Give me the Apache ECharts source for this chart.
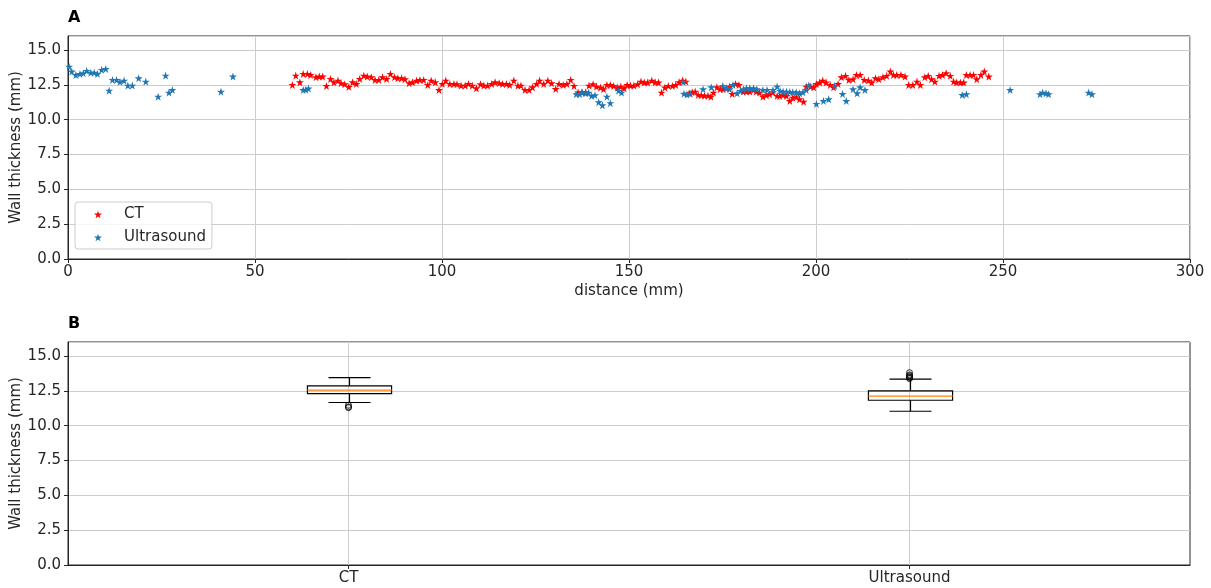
<!DOCTYPE html>
<html>
<head>
<meta charset="utf-8">
<script src="https://cdn.jsdelivr.net/npm/echarts@6/dist/echarts.min.js"></script>
<style>
html, body { margin: 0; padding: 0; background: #ffffff; }
#chart { width: 1211px; height: 588px; }
</style>
</head>
<body>
<div id="chart"></div>
<script>
// Wall thickness along the vessel, CT measurements (mm)
const ctDistance = [
  60.0, 60.9, 62.0, 62.9, 64.0, 64.9, 66.3, 67.2, 68.1, 69.1, 70.2, 71.1, 72.2, 73.0, 74.0, 75.1,
  76.1, 77.1, 78.0, 79.1, 80.0, 81.1, 82.1, 83.1, 84.1, 85.2, 86.2, 87.3, 88.2, 89.2, 90.1, 91.2,
  92.1, 93.2, 94.1, 95.1, 96.2, 97.1, 98.2, 99.2, 100.1, 101.0, 102.1, 103.2, 104.0, 105.1, 106.2, 107.1,
  108.1, 109.2, 110.3, 111.2, 112.2, 113.3, 114.2, 115.3, 116.2, 117.2, 118.1, 119.2, 120.3, 121.1, 122.2, 123.3,
  124.2, 125.3, 126.1, 127.2, 128.3, 129.3, 130.4, 131.3, 132.4, 133.4, 134.4, 135.3, 136.4, 137.4, 138.4, 139.3,
  140.4, 141.3, 142.4, 143.2, 144.1, 145.0, 145.9, 146.9, 147.8, 148.7, 149.5, 150.4, 151.3, 152.3, 153.2, 154.1,
  155.0, 156.1, 157.0, 157.9, 158.7, 159.6, 160.5, 161.6, 162.5, 163.4, 164.3, 165.2, 166.1, 166.9, 167.7, 168.5,
  169.3, 170.2, 171.1, 171.9, 172.6, 173.5, 174.4, 175.2, 176.0, 176.9, 177.6, 178.5, 179.4, 180.5, 181.4, 182.3,
  183.3, 184.0, 184.9, 185.8, 186.7, 187.6, 188.5, 189.6, 190.3, 191.2, 192.1, 193.0, 193.8, 194.7, 195.6, 196.7,
  197.4, 198.5, 199.4, 200.1, 201.0, 201.8, 202.7, 203.8, 204.7, 205.9, 206.8, 207.9, 208.8, 209.9, 210.8, 211.8,
  212.9, 214.0, 214.9, 215.9, 216.8, 217.9, 218.9, 219.9, 220.7, 221.6, 222.7, 223.8, 224.8, 225.9, 227.0, 227.9,
  229.1, 230.0, 230.9, 231.8, 232.9, 233.8, 234.8, 235.9, 236.8, 237.6, 238.6, 239.5, 240.2, 241.2, 242.1, 243.0,
  244.1, 245.0, 246.2
];
const ctThickness = [
  12.49, 13.16, 12.68, 13.28, 13.28, 13.21, 13.04, 13.09, 13.09, 12.42, 12.92, 12.68, 12.80, 12.61, 12.54, 12.35,
  12.68, 12.56, 12.92, 13.16, 13.09, 13.04, 12.85, 12.85, 13.04, 12.92, 13.28, 13.04, 12.97, 12.97, 12.90, 12.61,
  12.68, 12.80, 12.85, 12.85, 12.49, 12.80, 12.68, 12.13, 12.56, 12.80, 12.56, 12.56, 12.54, 12.44, 12.44, 12.56,
  12.44, 12.25, 12.54, 12.44, 12.44, 12.56, 12.68, 12.61, 12.56, 12.56, 12.49, 12.80, 12.44, 12.44, 12.13, 12.13,
  12.32, 12.56, 12.80, 12.56, 12.80, 12.61, 12.20, 12.56, 12.49, 12.56, 12.85, 12.42, 11.95, 11.96, 11.96, 12.44,
  12.54, 12.37, 12.30, 12.18, 12.49, 12.49, 12.42, 12.30, 12.37, 12.25, 12.49, 12.44, 12.44, 12.54, 12.73, 12.66,
  12.66, 12.80, 12.68, 12.66, 11.94, 12.30, 12.42, 12.42, 12.49, 12.68, 12.80, 12.73, 11.89, 11.96, 12.01, 11.77,
  11.75, 11.72, 11.72, 11.65, 11.94, 12.32, 12.18, 12.18, 12.23, 12.37, 11.84, 12.56, 12.49, 12.01, 12.01, 12.01,
  12.13, 12.01, 11.94, 11.65, 11.75, 11.82, 11.96, 11.70, 11.70, 11.75, 11.70, 11.34, 11.58, 11.61, 11.46, 11.29,
  12.37, 12.37, 12.32, 12.56, 12.66, 12.80, 12.66, 12.49, 12.32, 12.56, 13.04, 13.14, 12.85, 12.90, 13.21, 13.21,
  12.85, 12.80, 12.66, 12.97, 12.90, 13.04, 13.14, 13.45, 13.21, 13.21, 13.21, 13.09, 12.49, 12.49, 12.73, 12.49,
  13.04, 13.14, 12.90, 12.73, 13.14, 13.21, 13.33, 13.14, 12.73, 12.66, 12.66, 12.66, 13.21, 13.21, 13.21, 12.90,
  13.21, 13.45, 13.09
];

// Wall thickness along the vessel, ultrasound measurements (mm)
const usDistance = [
  0.3, 1.0, 2.1, 3.2, 4.1, 5.0, 6.1, 7.0, 7.9, 9.0, 10.1, 11.0, 11.9, 13.0, 13.9, 15.0,
  16.0, 17.2, 18.9, 20.8, 24.1, 26.1, 27.0, 27.9, 40.9, 44.1, 62.9, 63.6, 64.3,
  135.9, 136.8, 137.5, 138.4, 139.2, 140.0, 140.9, 141.9, 142.9, 144.1, 145.0, 147.2, 148.0,
  164.5, 164.7, 165.5, 166.4, 169.8, 172.0, 175.1, 176.0, 176.9, 177.8, 178.9, 179.8, 180.6, 181.4,
  182.3, 183.3, 184.2, 185.8, 186.9, 188.5, 189.6, 190.4, 191.2, 192.1, 193.0, 193.8, 194.7, 195.6,
  196.5, 197.4, 198.1, 200.1, 202.0, 203.4, 205.0, 207.1, 208.1, 209.9, 211.0, 211.8, 213.1,
  239.1, 240.2, 251.9, 259.9, 260.6, 261.5, 262.2, 272.9, 273.8
];
const usThickness = [
  13.80, 13.45, 13.20, 13.28, 13.33, 13.50, 13.37, 13.37, 13.28, 13.57, 13.64, 12.08, 12.85, 12.85, 12.70, 12.80,
  12.44, 12.44, 12.97, 12.73, 11.65, 13.16, 11.94, 12.13, 12.00, 13.09, 12.13, 12.15, 12.23,
  11.82, 11.82, 11.94, 11.89, 11.94, 11.70, 11.75, 11.25, 11.03, 11.65, 11.18, 12.08, 11.94,
  12.70, 11.86, 11.80, 11.85, 12.18, 12.32, 12.42, 12.25, 12.18, 12.49, 11.89, 12.06, 12.18, 12.25,
  12.25, 12.25, 12.18, 12.13, 12.13, 12.13, 12.37, 12.06, 12.01, 12.01, 11.99, 11.96, 11.96, 11.89,
  11.96, 12.13, 12.47, 11.13, 11.34, 11.46, 12.42, 11.84, 11.34, 12.18, 11.89, 12.32, 12.13,
  11.77, 11.82, 12.13, 11.82, 11.94, 11.89, 11.82, 11.94, 11.82
];

// Box plot summary per method: whisker ends, quartiles, median, outliers
const boxCategories = ['CT', 'Ultrasound'];
const boxLow = [11.66, 11.03];
const boxQ1 = [12.30, 11.82];
const boxMedian = [12.54, 12.11];
const boxQ3 = [12.85, 12.49];
const boxHigh = [13.45, 13.33];
const ctOutliers = [11.46, 11.34, 11.29];
const usOutliers = [13.80, 13.64, 13.57, 13.50, 13.45, 13.37];

const FONT = 'DejaVu Sans';
const INK = '#262626';
const GRID_LINE = '#cdcdcd';
const STAR = 'path://M0,-10L2.245,-3.09L9.511,-3.09L3.633,1.18L5.878,8.09L0,3.82L-5.878,8.09L-3.633,1.18L-9.511,-3.09L-2.245,-3.09Z';

const zip = (xs, ys) => xs.map((x, i) => [x, ys[i]]);

function thicknessAxis(gridIndex) {
  return {
    type: 'value', gridIndex: gridIndex, min: 0, max: 16, interval: 2.5,
    name: 'Wall thickness (mm)', nameLocation: 'middle', nameGap: 44, nameRotate: 90,
    nameMoveOverlap: false,
    nameTextStyle: { fontFamily: FONT, fontSize: 15, color: INK },
    axisLine: { show: true, lineStyle: { color: INK, width: 1 } },
    axisTick: { show: true, length: 4, lineStyle: { color: INK } },
    axisLabel: { fontFamily: FONT, fontSize: 15, color: INK, margin: 7, showMaxLabel: false,
      formatter: v => v.toFixed(1) },
    splitLine: { show: true, lineStyle: { color: GRID_LINE, width: 1 } }
  };
}

const chart = echarts.init(document.getElementById('chart'), null, { renderer: 'canvas' });

chart.setOption({
  animation: false,
  backgroundColor: '#ffffff',
  graphic: [
    { type: 'text', left: 68, top: 10, style: { text: 'A', font: 'bold 16px "DejaVu Sans"', fill: '#000' } },
    { type: 'text', left: 68, top: 316, style: { text: 'B', font: 'bold 16px "DejaVu Sans"', fill: '#000' } }
  ],
  grid: [
    { left: 68, right: 21, top: 36, height: 223, outerBoundsMode: 'none', containLabel: false,
      show: true, borderColor: INK, borderWidth: 1, backgroundColor: 'transparent' },
    { left: 68, right: 21, top: 342, height: 223, outerBoundsMode: 'none', containLabel: false,
      show: true, borderColor: INK, borderWidth: 1, backgroundColor: 'transparent' }
  ],
  legend: {
    data: ['CT', 'Ultrasound'],
    orient: 'vertical', left: 75, top: 202,
    icon: STAR, itemWidth: 8, itemHeight: 8, itemGap: 8,
    padding: [5, 6, 4, 19],
    backgroundColor: 'rgba(255,255,255,0.8)', borderColor: '#cccccc', borderWidth: 1, borderRadius: 3,
    textStyle: { fontFamily: FONT, fontSize: 15, color: INK, padding: [0, 0, 0, 17] },
    selectedMode: false
  },
  xAxis: [
    {
      type: 'value', gridIndex: 0, min: 0, max: 300, interval: 50,
      name: 'distance (mm)', nameLocation: 'middle', nameGap: 25,
      nameTextStyle: { fontFamily: FONT, fontSize: 15, color: INK },
      axisLine: { show: true, lineStyle: { color: INK, width: 1 } },
      axisTick: { show: true, length: 4, lineStyle: { color: INK } },
      axisLabel: { fontFamily: FONT, fontSize: 15, color: INK, margin: 6 },
      splitLine: { show: true, lineStyle: { color: GRID_LINE, width: 1 } }
    },
    {
      type: 'category', gridIndex: 1, data: boxCategories, boundaryGap: true,
      axisLine: { show: true, lineStyle: { color: INK, width: 1 } },
      axisTick: { show: true, length: 4, alignWithLabel: true, lineStyle: { color: INK } },
      axisLabel: { fontFamily: FONT, fontSize: 15, color: INK, margin: 6 },
      splitLine: { show: true, alignWithLabel: true, lineStyle: { color: GRID_LINE, width: 1 } }
    }
  ],
  yAxis: [thicknessAxis(0), thicknessAxis(1)],
  series: [
    {
      name: 'CT', type: 'scatter', xAxisIndex: 0, yAxisIndex: 0,
      symbol: STAR, symbolSize: 8,
      itemStyle: { color: '#ff0000', opacity: 1 },
      data: zip(ctDistance, ctThickness)
    },
    {
      name: 'Ultrasound', type: 'scatter', xAxisIndex: 0, yAxisIndex: 0,
      symbol: STAR, symbolSize: 8,
      itemStyle: { color: '#1f77b4', opacity: 1 },
      data: zip(usDistance, usThickness)
    },
    {
      name: 'box', type: 'custom', xAxisIndex: 1, yAxisIndex: 1,
      data: boxCategories.map((c, i) => [i, boxLow[i], boxQ1[i], boxMedian[i], boxQ3[i], boxHigh[i]]),
      renderItem: function (params, api) {
        const idx = api.value(0);
        const low = api.coord([idx, api.value(1)]);
        const q1 = api.coord([idx, api.value(2)]);
        const med = api.coord([idx, api.value(3)]);
        const q3 = api.coord([idx, api.value(4)]);
        const high = api.coord([idx, api.value(5)]);
        const band = api.size([1, 0])[0];
        const half = band * 0.15 / 2;
        const cap = half / 2;
        const cx = Math.round(low[0]) + 0.5;
        const line = (x1, y1, x2, y2, color) => ({
          type: 'line', shape: { x1: x1, y1: y1, x2: x2, y2: y2 },
          style: { stroke: color, lineWidth: 1.2 }
        });
        return {
          type: 'group',
          children: [
            line(cx, q3[1], cx, high[1], '#000'),
            line(cx, q1[1], cx, low[1], '#000'),
            line(cx - cap, high[1], cx + cap, high[1], '#000'),
            line(cx - cap, low[1], cx + cap, low[1], '#000'),
            { type: 'rect', shape: { x: cx - half, y: q3[1], width: half * 2, height: q1[1] - q3[1] },
              style: { fill: 'none', stroke: '#000', lineWidth: 1.2 } },
            line(cx - half, med[1], cx + half, med[1], '#ff7f0e')
          ]
        };
      }
    },
    {
      name: 'outliers', type: 'scatter', xAxisIndex: 1, yAxisIndex: 1,
      symbol: 'circle', symbolSize: 6,
      itemStyle: { color: 'rgba(0,0,0,0)', borderColor: '#000', borderWidth: 1 },
      data: ctOutliers.map(v => [0, v]).concat(usOutliers.map(v => [1, v]))
    }
  ]
});
</script>
</body>
</html>
